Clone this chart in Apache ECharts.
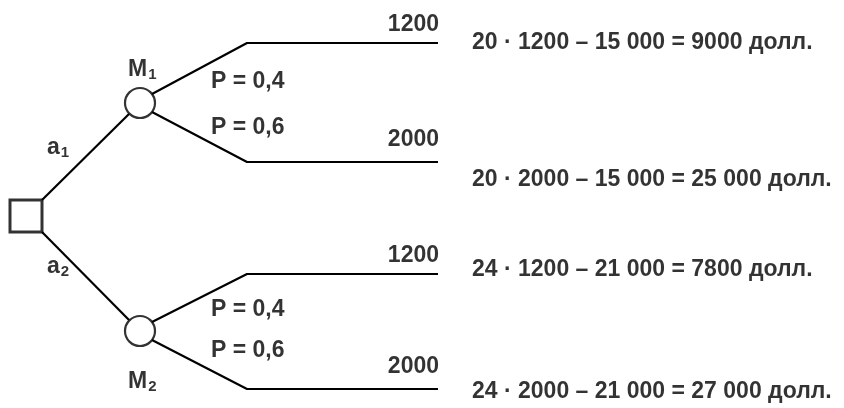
<!DOCTYPE html>
<html><head><meta charset="utf-8">
<script src="https://cdn.jsdelivr.net/npm/echarts@6/dist/echarts.min.js"></script>
<style>html,body{margin:0;padding:0;background:#fff}#c{width:844px;height:408px}</style>
</head><body><div id="c"></div>
<script>
// Data
var alternatives = [['a', '1'], ['a', '2']];
var states = [['M', '1'], ['M', '2']];
var demand = [1200, 2000];
var probs = ['0,4', '0,6'];
var price = [20, 24];
var fixedCost = ['15 000', '21 000'];
var profits = [['9000', '25 000'], ['7800', '27 000']];

// Layout (positions in pixel space of the axes)
var root = [26, 216];
var chance = [[140, 103], [140, 331]];
var elbowX = 247, endX = 438;
var branchY = [[43, 162], [274, 389]];
var resultY = [[43, 180], [270, 392]];

var segs = [];
segs.push([[42, 200], [129, 114]]);
segs.push([[42, 232], [129, 320]]);
for (var i = 0; i < 2; i++) {
  var c = chance[i];
  segs.push([[c[0] + 12, c[1] - 9], [elbowX, branchY[i][0]], [endX, branchY[i][0]]]);
  segs.push([[c[0] + 12, c[1] + 9], [elbowX, branchY[i][1]], [endX, branchY[i][1]]]);
}

var labels = [];
function lab(x, y, text, align) { labels.push({ value: [x, y], name: text, align: align || 'left' }); }
function sub(pair) { return '{m|' + pair[0] + '}{s|' + pair[1] + '}'; }
lab(47, 148, sub(alternatives[0]));
lab(47, 267, sub(alternatives[1]));
lab(128, 70, sub(states[0]));
lab(128, 382, sub(states[1]));
for (var i = 0; i < 2; i++) {
  lab(211, i === 0 ? 82 : 310, 'P = ' + probs[0]);
  lab(211, i === 0 ? 128 : 351, 'P = ' + probs[1]);
  lab(endX + 1, branchY[i][0] - 18, String(demand[0]), 'right');
  lab(endX + 1, branchY[i][1] - 22, String(demand[1]), 'right');
  for (var j = 0; j < 2; j++) {
    lab(472, resultY[i][j], price[i] + ' \u00b7 ' + demand[j] + ' \u2013 ' + fixedCost[i] + ' = ' + profits[i][j] + ' \u0434\u043e\u043b\u043b.');
  }
}

var font = 'Liberation Sans, Arial, sans-serif';
var series = segs.map(function (s) {
  return { type: 'line', data: s, symbol: 'none', silent: true, animation: false,
    lineStyle: { color: '#000', width: 2.2 } };
});
series.push({ type: 'scatter', data: chance, symbol: 'circle', symbolSize: 30, animation: false, silent: true,
  itemStyle: { color: '#fff', borderColor: '#000', borderWidth: 2.2 } });
series.push({ type: 'scatter', data: [root], symbol: 'rect', symbolSize: 32, animation: false, silent: true,
  itemStyle: { color: '#fff', borderColor: '#000', borderWidth: 3 } });
series.push({ type: 'scatter', symbolSize: 0, animation: false, silent: true,
  data: labels.map(function (l) {
    return { value: l.value, name: l.name, label: { align: l.align } };
  }),
  label: { show: true, position: 'inside', formatter: function (p) { return p.name; },
    color: '#000', fontFamily: font, fontWeight: 'bold', fontSize: 23,
    verticalAlign: 'middle',
    rich: {
      m: { color: '#000', fontFamily: font, fontWeight: 'bold', fontSize: 23, lineHeight: 24, verticalAlign: 'middle' },
      s: { color: '#000', fontFamily: font, fontWeight: 'bold', fontSize: 15, lineHeight: 15, verticalAlign: 'bottom', padding: [10, 0, 0, 1] }
    } } });

var chart = echarts.init(document.getElementById('c'), null, { renderer: 'canvas' });
chart.setOption({
  backgroundColor: '#fff',
  animation: false,
  grid: { left: 0, right: 0, top: 0, bottom: 0 },
  xAxis: { type: 'value', min: 0, max: 844, show: false },
  yAxis: { type: 'value', min: 0, max: 408, inverse: true, show: false },
  series: series
});
</script></body></html>
